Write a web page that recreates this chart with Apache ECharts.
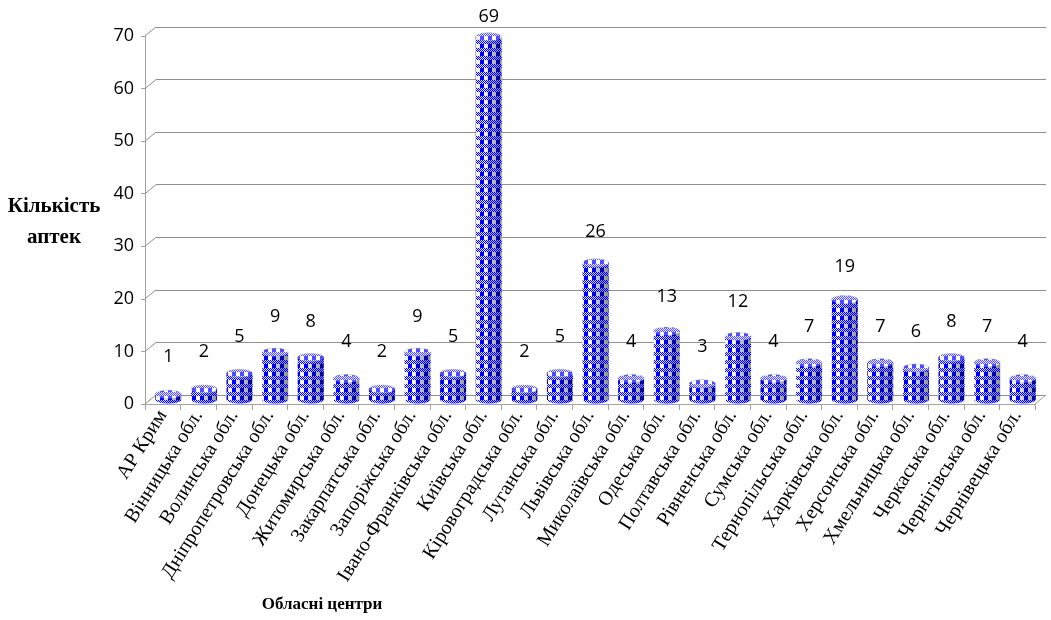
<!DOCTYPE html>
<html>
<head>
<meta charset="utf-8">
<script src="https://cdn.jsdelivr.net/npm/echarts@6/dist/echarts.min.js"></script>
<style>
  html, body { margin: 0; padding: 0; background: #ffffff; }
  #chart { width: 1051px; height: 620px; }
</style>
</head>
<body>
<div id="chart"></div>
<script>
// Pharmacies per regional centre
const categories = [
  'АР Крим', 'Вінницька обл.', 'Волинська обл.', 'Дніпропетровська обл.',
  'Донецька обл.', 'Житомирська обл.', 'Закарпатська обл.', 'Запоріжська обл.',
  'Івано-Франківська обл.', 'Київська обл.', 'Кіровоградська обл.', 'Луганська обл.',
  'Львівська обл.', 'Миколаївська обл.', 'Одеська обл.', 'Полтавська обл.',
  'Рівненська обл.', 'Сумська обл.', 'Тернопільська обл.', 'Харківська обл.',
  'Херсонська обл.', 'Хмельницька обл.', 'Черкаська обл.', 'Чернігівська обл.',
  'Чернівецька обл.'
];
const pharmacyCounts = [1, 2, 5, 9, 8, 4, 2, 9, 5, 69, 2, 5, 26, 4, 13, 3, 12, 4, 7, 19, 7, 6, 8, 7, 4];
const yTickValues = [0, 10, 20, 30, 40, 50, 60, 70];

const yAxisTitle = 'Кількість\nаптек';
const xAxisTitle = 'Обласні центри';

// depth of the pseudo-3D floor / back wall, in pixels
const DEPTH_X = 11;
const DEPTH_Y = -9;
const AXIS_GRAY = '#a3a3a3';
const GRID_GRAY = '#8f8f8f';

// "plaid" tile: checker rows over half-width vertical stripes
function makePlaidTile() {
  const n = 8;
  const c = document.createElement('canvas');
  c.width = n; c.height = n;
  const ctx = c.getContext('2d');
  const img = ctx.createImageData(n, n);
  for (let y = 0; y < n; y++) {
    for (let x = 0; x < n; x++) {
      const blue = y < 4 ? (x + y) % 2 === 0 : x < 4;
      const k = (y * n + x) * 4;
      if (blue) { img.data[k] = 0; img.data[k + 1] = 0; img.data[k + 2] = 255; }
      else { img.data[k] = 255; img.data[k + 1] = 255; img.data[k + 2] = 255; }
      img.data[k + 3] = 255;
    }
  }
  ctx.putImageData(img, 0, 0);
  return c;
}
const plaidPattern = { image: makePlaidTile(), repeat: 'repeat' };

const sideShade = {
  type: 'linear', x: 0, y: 0, x2: 1, y2: 0,
  colorStops: [
    { offset: 0, color: 'rgba(0,0,0,0.05)' },
    { offset: 0.3, color: 'rgba(0,0,0,0)' },
    { offset: 0.55, color: 'rgba(0,0,0,0.22)' },
    { offset: 0.8, color: 'rgba(0,0,0,0.32)' },
    { offset: 1, color: 'rgba(0,0,0,0.45)' }
  ]
};

function ellipseArc(cx, cy, rx, ry, a0, a1, n) {
  const pts = [];
  for (let k = 0; k <= n; k++) {
    const a = a0 + (a1 - a0) * k / n;
    pts.push([cx + rx * Math.cos(a), cy + ry * Math.sin(a)]);
  }
  return pts;
}

function renderCylinder(params, api) {
  const i = api.value(0);
  const v = api.value(1);
  const base = api.coord([i, 0]);
  const top = api.coord([i, v]);
  const band = api.size([1, 0])[0];
  const cx = base[0] + DEPTH_X / 2;
  const yb = base[1] + DEPTH_Y / 2;
  const yt = top[1] + DEPTH_Y / 2;
  const rx = band * 0.365;
  const ry = 4;

  const body = [[cx - rx, yt]]
    .concat(ellipseArc(cx, yb, rx, ry, Math.PI, 0, 24))
    .concat([[cx + rx, yt]]);
  const cap = ellipseArc(cx, yt, rx, ry, 0, Math.PI * 2, 40);
  const lift = 37.5 - 0.049 * (yb - yt);

  return {
    type: 'group',
    children: [
      { type: 'polygon', shape: { points: body }, style: { fill: plaidPattern } },
      { type: 'polygon', shape: { points: body }, style: { fill: sideShade } },
      { type: 'polygon', shape: { points: cap }, style: { fill: plaidPattern } },
      { type: 'polygon', shape: { points: cap }, style: { fill: 'rgba(255,255,255,0.3)', stroke: 'rgba(150,150,200,0.6)', lineWidth: 0.6 } },
      {
        type: 'text',
        style: {
          text: String(v), x: cx, y: yt - lift,
          align: 'center', verticalAlign: 'middle',
          fontFamily: '"Open Sans"', fontSize: 18, fill: '#000000'
        }
      }
    ]
  };
}

function renderDepthEdges(params, api) {
  const v = api.value(1);
  const band = api.size([1, 0])[0];
  const p = api.coord([0, v]);
  const left = p[0] - band / 2;
  const children = [{
    type: 'line',
    shape: { x1: left, y1: p[1], x2: left + DEPTH_X, y2: p[1] + DEPTH_Y },
    style: { stroke: GRID_GRAY, lineWidth: 1 }
  }];
  if (v === 0) {
    const r = api.coord([categories.length - 1, 0])[0] + band / 2;
    children.push({
      type: 'line',
      shape: { x1: r, y1: p[1], x2: r + DEPTH_X, y2: p[1] + DEPTH_Y },
      style: { stroke: AXIS_GRAY, lineWidth: 1 }
    });
  }
  return { type: 'group', children };
}

const chart = echarts.init(document.getElementById('chart'), null, { renderer: 'canvas' });

chart.setOption({
  animation: false,
  backgroundColor: '#ffffff',
  grid: [
    { left: 145, right: 16, top: 36, bottom: 216 },
    { left: 145 + DEPTH_X, right: 16 - DEPTH_X, top: 36 + DEPTH_Y, bottom: 216 - DEPTH_Y }
  ],
  xAxis: [
    {
      type: 'category', gridIndex: 0, data: categories,
      axisLine: { show: true, lineStyle: { color: AXIS_GRAY, width: 1 } },
      axisTick: { show: true, length: 6, lineStyle: { color: AXIS_GRAY } },
      axisLabel: {
        interval: 0, rotate: 58, margin: 8,
        fontFamily: '"Liberation Serif"', fontSize: 20, color: '#000000'
      },
      splitLine: { show: false }
    },
    { type: 'category', gridIndex: 1, data: categories, show: false }
  ],
  yAxis: [
    {
      type: 'value', gridIndex: 0, min: 0, max: 70, interval: 10,
      axisLine: { show: true, lineStyle: { color: AXIS_GRAY, width: 1 } },
      axisTick: { show: true, length: 4, lineStyle: { color: AXIS_GRAY } },
      axisLabel: { margin: 11, fontFamily: '"Open Sans"', fontSize: 18, color: '#000000' },
      splitLine: { show: false }
    },
    {
      type: 'value', gridIndex: 1, min: 0, max: 70, interval: 10,
      axisLine: { show: false }, axisTick: { show: false }, axisLabel: { show: false },
      splitLine: { show: true, lineStyle: { color: GRID_GRAY, width: 1 } }
    }
  ],
  series: [
    {
      type: 'custom', xAxisIndex: 0, yAxisIndex: 0, z: 1, silent: true,
      renderItem: renderDepthEdges,
      data: yTickValues.map(v => [0, v])
    },
    {
      type: 'custom', xAxisIndex: 0, yAxisIndex: 0, z: 5,
      renderItem: renderCylinder,
      data: pharmacyCounts.map((v, i) => [i, v])
    }
  ],
  graphic: [
    {
      type: 'text',
      style: {
        text: yAxisTitle, x: 54, y: 222, align: 'center', verticalAlign: 'middle', lineHeight: 31,
        fontFamily: '"Liberation Serif"', fontWeight: 'bold', fontSize: 21, fill: '#000000'
      }
    },
    {
      type: 'text',
      style: {
        text: xAxisTitle, x: 322, y: 605, align: 'center', verticalAlign: 'middle',
        fontFamily: '"Liberation Serif"', fontWeight: 'bold', fontSize: 17, fill: '#000000'
      }
    }
  ]
});
</script>
</body>
</html>
